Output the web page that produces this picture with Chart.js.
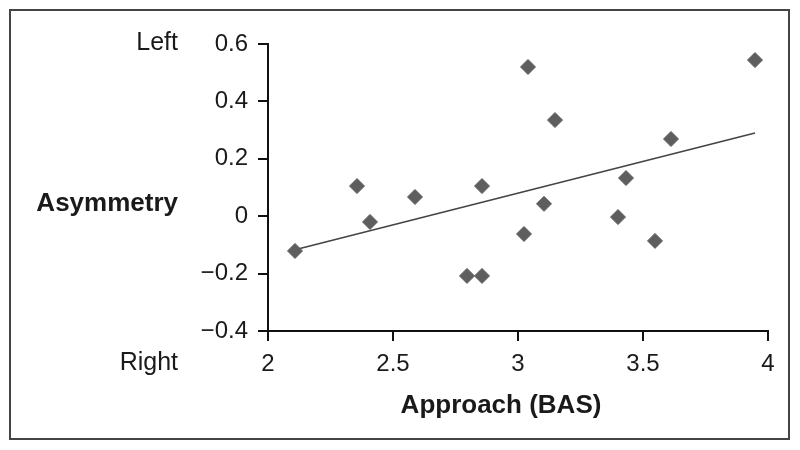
<!DOCTYPE html>
<html>
<head>
<meta charset="utf-8">
<script src="https://cdn.jsdelivr.net/npm/chart.js@4.4.1/dist/chart.umd.min.js"></script>
<style>
  body { margin: 0; background: #fff; }
  #wrap { width: 800px; height: 450px; }
</style>
</head>
<body>
<div id="wrap"><canvas id="scatterChart" width="800" height="450"></canvas></div>
<script>
// approach (BAS) scores and hemispheric asymmetry
const approachX = [2.108, 2.356, 2.408, 2.588, 2.796, 2.856, 2.856, 3.024, 3.04, 3.104, 3.148, 3.4, 3.432, 3.548, 3.612, 3.948];
const asymmetryY = [-0.121, 0.105, -0.02, 0.067, -0.208, -0.208, 0.105, -0.062, 0.52, 0.043, 0.335, -0.003, 0.133, -0.086, 0.269, 0.544];

// ends of the fitted line
const trendX = [2.108, 3.948];
const trendY = [-0.117, 0.29];

const xTickLabels = ['2', '2.5', '3', '3.5', '4'];
const yTickLabels = ['\u22120.4', '\u22120.2', '0', '0.2', '0.4', '0.6'];

const FONT = '"Liberation Sans", Arial, sans-serif';

const sideLabels = {
    id: 'sideLabels',
    afterDraw(chart) {
        const ctx = chart.ctx;
        ctx.save();
        ctx.strokeStyle = '#444';
        ctx.lineWidth = 2;
        ctx.strokeRect(10, 10, 779, 429);

        ctx.fillStyle = '#1a1a1a';
        ctx.textBaseline = 'alphabetic';
        ctx.textAlign = 'right';
        ctx.font = '25px ' + FONT;
        ctx.fillText('Left', 178, 50);
        ctx.fillText('Right', 178, 370);
        ctx.font = 'bold 26px ' + FONT;
        ctx.fillText('Asymmetry', 178, 211);
        ctx.textAlign = 'center';
        ctx.fillText('Approach (BAS)', 501, 413);
        ctx.restore();
    }
};

const points = approachX.map((x, i) => ({ x: x, y: asymmetryY[i] }));
const trend = trendX.map((x, i) => ({ x: x, y: trendY[i] }));

new Chart(document.getElementById('scatterChart'), {
    type: 'scatter',
    data: {
        datasets: [{
            label: 'Subjects',
            data: points,
            pointStyle: 'rectRot',
            pointRadius: 7.5,
            backgroundColor: '#5e5e5e',
            borderColor: '#5e5e5e',
            borderWidth: 1
        }, {
            type: 'line',
            label: 'Fit',
            data: trend,
            showLine: true,
            pointRadius: 0,
            borderColor: '#444',
            borderWidth: 1.6,
            fill: false
        }]
    },
    options: {
        responsive: false,
        animation: false,
        layout: { padding: { left: 0, top: 44, right: 32, bottom: 0 } },
        plugins: {
            legend: { display: false },
            tooltip: { enabled: false }
        },
        scales: {
            x: {
                type: 'linear',
                min: 2,
                max: 4,
                afterFit: scale => { scale.height = 119; },
                afterBuildTicks: scale => {
                    scale.ticks = xTickLabels.map(t => ({ value: parseFloat(t) }));
                },
                ticks: {
                    callback: (v, i) => xTickLabels[i],
                    color: '#1a1a1a',
                    font: { family: FONT, size: 24 },
                    padding: 9,
                    maxRotation: 0
                },
                grid: { drawOnChartArea: false, drawTicks: true, tickLength: 10, color: '#111', lineWidth: 2 },
                border: { display: true, color: '#111', width: 2 }
            },
            y: {
                min: -0.4,
                max: 0.6,
                afterFit: scale => { scale.width = 268; },
                afterBuildTicks: scale => {
                    scale.ticks = yTickLabels.map(t => ({ value: parseFloat(t.replace('\u2212', '-')) }));
                },
                ticks: {
                    callback: (v, i) => yTickLabels[i],
                    color: '#1a1a1a',
                    font: { family: FONT, size: 24 },
                    padding: 10
                },
                grid: { drawOnChartArea: false, drawTicks: true, tickLength: 10, color: '#111', lineWidth: 2 },
                border: { display: true, color: '#111', width: 2 }
            }
        }
    },
    plugins: [sideLabels]
});
</script>
</body>
</html>
